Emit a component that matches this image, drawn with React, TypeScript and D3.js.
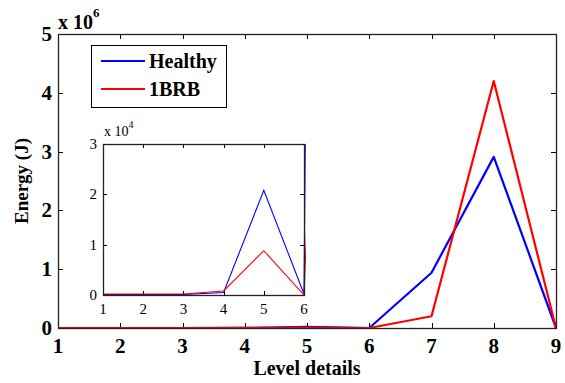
import { useEffect, useRef } from 'react';
import * as d3 from 'd3';

const levels = [1, 2, 3, 4, 5, 6, 7, 8, 9];
const healthy = [100, 100, 100, 500, 20800, 200, 940000, 2910000, 0];
const brb = [200, 200, 200, 800, 8800, 0, 200000, 4200000, 0];
const seriesNames = ['Healthy', '1BRB'];
const seriesColors = ['#0000ff', '#ff0000'];
const mainYTicks = [0, 1, 2, 3, 4, 5];
const insetXTicks = [1, 2, 3, 4, 5, 6];
const insetYTicks = [0, 1, 2, 3];

const W = 565;
const H = 383;
const serif = 'Liberation Serif';

export default function App() {
    const svgRef = useRef<SVGSVGElement>(null);

    useEffect(() => {
        if (!svgRef.current) return;
        const svg = d3.select(svgRef.current);
        svg.selectAll('*').remove();

        // main axes box
        const m = { left: 58, right: 556, top: 34, bottom: 328 };
        const x = d3.scaleLinear().domain([1, 9]).range([m.left, m.right]);
        const y = d3.scaleLinear().domain([0, 5e6]).range([m.bottom, m.top]);

        const main = svg.append('g').attr('font-family', serif);
        main.append('rect')
            .attr('x', m.left).attr('y', m.top)
            .attr('width', m.right - m.left).attr('height', m.bottom - m.top)
            .attr('fill', 'white');

        const tk = 5;
        // ticks (inward, mirrored)
        levels.forEach(v => {
            const px = Math.round(x(v)) + 0.5;
            main.append('line').attr('x1', px).attr('x2', px).attr('y1', m.bottom).attr('y2', m.bottom - tk).attr('stroke', '#000');
            main.append('line').attr('x1', px).attr('x2', px).attr('y1', m.top).attr('y2', m.top + tk).attr('stroke', '#000');
            main.append('text')
                .attr('x', x(v)).attr('y', 353)
                .attr('text-anchor', 'middle')
                .attr('font-weight', 'bold').attr('font-size', 21)
                .text(String(v));
        });
        mainYTicks.forEach(v => {
            const py = Math.round(y(v * 1e6)) + 0.5;
            main.append('line').attr('x1', m.left).attr('x2', m.left + tk).attr('y1', py).attr('y2', py).attr('stroke', '#000');
            main.append('line').attr('x1', m.right).attr('x2', m.right - tk).attr('y1', py).attr('y2', py).attr('stroke', '#000');
            main.append('text')
                .attr('x', 52).attr('y', y(v * 1e6) + 7)
                .attr('text-anchor', 'end')
                .attr('font-weight', 'bold').attr('font-size', 21)
                .text(String(v));
        });

        const line = d3.line<number>()
            .x((_, i) => x(levels[i]))
            .y(d => y(d));

        [healthy, brb].forEach((s, i) => {
            main.append('path')
                .attr('d', line(s))
                .attr('fill', 'none')
                .attr('stroke', seriesColors[i])
                .attr('stroke-width', 2.2)
                .attr('stroke-linejoin', 'round');
        });

        main.append('rect')
            .attr('x', m.left + 0.5).attr('y', m.top + 0.5)
            .attr('width', m.right - m.left).attr('height', m.bottom - m.top)
            .attr('fill', 'none').attr('stroke', '#222').attr('stroke-width', 1.3);

        // exponent
        const ex = main.append('text')
            .attr('x', 58).attr('y', 29)
            .attr('font-weight', 'bold').attr('font-size', 20);
        ex.append('tspan').text('x 10');
        ex.append('tspan').attr('dy', -12).attr('font-size', 13).text('6');

        main.append('text')
            .attr('transform', `translate(28,${(m.top + m.bottom) / 2}) rotate(-90)`)
            .attr('text-anchor', 'middle')
            .attr('font-weight', 'bold').attr('font-size', 19)
            .text('Energy (J)');

        main.append('text')
            .attr('x', (m.left + m.right) / 2).attr('y', 375)
            .attr('text-anchor', 'middle')
            .attr('font-weight', 'bold').attr('font-size', 20)
            .text('Level details');

        // legend
        const lg = main.append('g');
        lg.append('rect')
            .attr('x', 91.5).attr('y', 45.5).attr('width', 135).attr('height', 62)
            .attr('fill', 'white').attr('stroke', '#000');
        seriesNames.forEach((n, i) => {
            const ly = 61 + i * 28;
            lg.append('line').attr('x1', 101).attr('x2', 145).attr('y1', ly).attr('y2', ly)
                .attr('stroke', seriesColors[i]).attr('stroke-width', 2.2);
            lg.append('text').attr('x', 149).attr('y', ly + 7)
                .attr('font-weight', 'bold').attr('font-size', 20)
                .text(n);
        });

        // inset
        const n = { left: 103, right: 304, top: 144, bottom: 295 };
        const ix = d3.scaleLinear().domain([1, 6]).range([n.left, n.right]);
        const iy = d3.scaleLinear().domain([0, 3e4]).range([n.bottom, n.top]);
        const inset = svg.append('g').attr('font-family', serif);
        inset.append('rect')
            .attr('x', n.left).attr('y', n.top)
            .attr('width', n.right - n.left).attr('height', n.bottom - n.top)
            .attr('fill', 'white');

        svg.append('defs').append('clipPath').attr('id', 'insetClip')
            .append('rect')
            .attr('x', n.left).attr('y', n.top)
            .attr('width', n.right - n.left + 2).attr('height', n.bottom - n.top);

        const itk = 4;
        insetXTicks.forEach(v => {
            const px = Math.round(ix(v)) + 0.5;
            inset.append('line').attr('x1', px).attr('x2', px).attr('y1', n.bottom).attr('y2', n.bottom - itk).attr('stroke', '#000');
            inset.append('line').attr('x1', px).attr('x2', px).attr('y1', n.top).attr('y2', n.top + itk).attr('stroke', '#000');
            inset.append('text')
                .attr('x', ix(v)).attr('y', 314)
                .attr('text-anchor', 'middle')
                .attr('font-size', 15)
                .text(String(v));
        });
        insetYTicks.forEach(v => {
            const py = Math.round(iy(v * 1e4)) + 0.5;
            inset.append('line').attr('x1', n.left).attr('x2', n.left + itk).attr('y1', py).attr('y2', py).attr('stroke', '#000');
            inset.append('line').attr('x1', n.right).attr('x2', n.right - itk).attr('y1', py).attr('y2', py).attr('stroke', '#000');
            inset.append('text')
                .attr('x', 97).attr('y', iy(v * 1e4) + 5)
                .attr('text-anchor', 'end')
                .attr('font-size', 15)
                .text(String(v));
        });

        const iline = d3.line<number>()
            .x((_, i) => ix(levels[i]))
            .y(d => iy(d));

        const lines = inset.append('g').attr('clip-path', 'url(#insetClip)');
        [healthy, brb].forEach((s, i) => {
            lines.append('path')
                .attr('d', iline(s.slice(0, 7)))
                .attr('fill', 'none')
                .attr('stroke', seriesColors[i])
                .attr('stroke-width', 1.1);
        });

        inset.append('rect')
            .attr('x', n.left + 0.5).attr('y', n.top + 0.5)
            .attr('width', n.right - n.left).attr('height', n.bottom - n.top)
            .attr('fill', 'none').attr('stroke', '#222').attr('stroke-width', 1.3);

        const iex = inset.append('text')
            .attr('x', 104).attr('y', 136)
            .attr('font-size', 14);
        iex.append('tspan').text('x 10');
        iex.append('tspan').attr('dy', -8).attr('font-size', 10).text('4');
    }, []);

    return (
        <svg
            ref={svgRef}
            width={W}
            height={H}
            style={{ position: 'absolute', left: 0, top: 0, background: 'white' }}
        />
    );
}
